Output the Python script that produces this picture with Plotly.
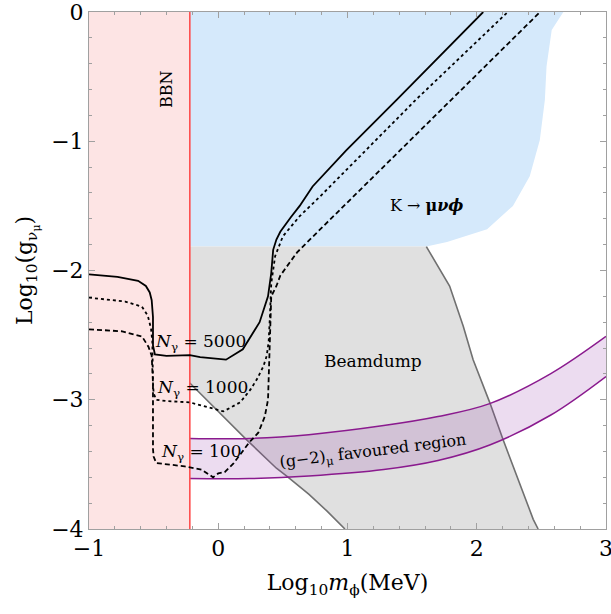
import plotly.graph_objects as go

# ---------------- data ----------------
bbn_edge = -0.22
bbn_x = [-1.0, -0.22, -0.22, -1.0]
bbn_y = [0.0, 0.0, -4.0, -4.0]

# K -> mu nu phi excluded region (blue)
k_x = [-0.22, 2.67, 2.58, 2.54, 2.527, 2.488, 2.41, 2.28, 2.08, 1.77, 1.61, -0.22]
k_y = [0.0, 0.0, -0.14, -0.42, -0.68, -0.99, -1.27, -1.50, -1.68, -1.78, -1.815, -1.815]

# Beamdump region (grey): right boundary and lower-left boundary
bd_r_x = [1.61, 1.79, 1.895, 1.972, 2.10, 2.204, 2.437, 2.475]
bd_r_y = [-1.815, -2.12, -2.43, -2.69, -3.02, -3.31, -3.925, -4.0]
bd_l_x = [-0.22, -0.17, -0.04, 0.22, 0.45, 0.53, 0.70, 0.84, 0.98]
bd_l_y = [-2.87, -2.92, -3.05, -3.31, -3.53, -3.59, -3.73, -3.86, -4.0]

# (g-2)_mu favoured band
g2_x = [-0.22, 0.24, 0.7, 1.28, 1.7, 2.1, 2.57, 3.0]
g2_upper = [-3.30, -3.30, -3.27, -3.20, -3.13, -3.03, -2.80, -2.51]
g2_lower = [-3.61, -3.61, -3.59, -3.54, -3.47, -3.35, -3.12, -2.82]

# N_gamma = 5000 (solid)
n5000_x = [-1.0, -0.78, -0.62, -0.56, -0.53, -0.515, -0.505, -0.505, -0.49, -0.40, -0.22, -0.14,
           0.06, 0.19, 0.32, 0.385, 0.41, 0.425, 0.45, 0.48, 0.56, 0.63, 0.73, 0.99, 1.38, 2.05]
n5000_y = [-2.03, -2.05, -2.08, -2.12, -2.17, -2.23, -2.36, -2.58, -2.65, -2.66, -2.655, -2.67,
           -2.69, -2.61, -2.40, -2.20, -2.02, -1.84, -1.76, -1.70, -1.59, -1.50, -1.35, -1.07, -0.68, 0.0]

# N_gamma = 1000 (dotted)
n1000_x = [-1.0, -0.72, -0.59, -0.545, -0.52, -0.51, -0.505, -0.50, -0.48, -0.40, -0.22, 0.04,
           0.17, 0.25, 0.30, 0.35, 0.375, 0.39, 0.40, 0.41, 0.44, 0.50, 0.63, 0.79, 1.53, 2.24]
n1000_y = [-2.21, -2.24, -2.28, -2.35, -2.45, -2.55, -2.87, -2.95, -3.00, -3.01, -3.02, -3.09,
           -3.02, -2.92, -2.84, -2.74, -2.66, -2.55, -2.35, -2.10, -1.89, -1.735, -1.58, -1.425, -0.678, 0.0]

# N_gamma = 100 (dashed)
n100_x = [-1.0, -0.75, -0.59, -0.54, -0.515, -0.505, -0.505, -0.50, -0.48, -0.39, -0.26, -0.13,
          -0.04, 0.0, 0.05, 0.12, 0.24, 0.31, 0.36, 0.385, 0.40, 0.41, 0.45, 0.48, 0.53, 0.61,
          0.79, 1.805, 2.49]
n100_y = [-2.455, -2.47, -2.51, -2.59, -2.66, -2.87, -3.38, -3.44, -3.49, -3.50, -3.515, -3.54,
          -3.60, -3.57, -3.56, -3.49, -3.33, -3.255, -3.13, -3.00, -2.61, -2.20, -2.12, -2.04, -1.97,
          -1.86, -1.68, -0.678, 0.0]

x_ticks = [-1, 0, 1, 2, 3]
y_ticks = [0, -1, -2, -3, -4]

# ---------------- figure ----------------
SERIF = "DejaVu Serif"
fig = go.Figure()

# blue K region
fig.add_trace(go.Scatter(x=k_x, y=k_y, fill="toself", fillcolor="#d5e9fb",
                         line=dict(width=0), mode="lines", hoverinfo="skip"))
# beamdump grey polygon
bd_poly_x = [-0.22] + bd_r_x + bd_l_x[::-1]
bd_poly_y = [-1.815] + bd_r_y + bd_l_y[::-1]
fig.add_trace(go.Scatter(x=bd_poly_x, y=bd_poly_y, fill="toself", fillcolor="#e0e0e0",
                         line=dict(width=0), mode="lines", hoverinfo="skip"))
fig.add_trace(go.Scatter(x=bd_r_x, y=bd_r_y, mode="lines", line=dict(color="#707070", width=1.6)))
fig.add_trace(go.Scatter(x=bd_l_x, y=bd_l_y, mode="lines", line=dict(color="#707070", width=1.6)))

# g-2 band
fig.add_trace(go.Scatter(x=g2_x, y=g2_lower, mode="lines", line=dict(color="#8a1a8e", width=1.5, shape="spline")))
fig.add_trace(go.Scatter(x=g2_x, y=g2_upper, mode="lines", fill="tonexty",
                         fillcolor="rgba(150,60,170,0.18)",
                         line=dict(color="#8a1a8e", width=1.5, shape="spline")))

# BBN
fig.add_trace(go.Scatter(x=bbn_x, y=bbn_y, fill="toself", fillcolor="#fde4e4",
                         line=dict(width=0), mode="lines", hoverinfo="skip"))
fig.add_trace(go.Scatter(x=[bbn_edge, bbn_edge], y=[0, -4], mode="lines",
                         line=dict(color="#ff4d4d", width=1.6)))

# N_gamma curves
fig.add_trace(go.Scatter(x=n5000_x, y=n5000_y, mode="lines", line=dict(color="black", width=1.8)))
fig.add_trace(go.Scatter(x=n1000_x, y=n1000_y, mode="lines", line=dict(color="black", width=1.8, dash="dot")))
fig.add_trace(go.Scatter(x=n100_x, y=n100_y, mode="lines", line=dict(color="black", width=1.8, dash="5px,3px")))

ann = [
    dict(x=-0.40, y=-0.60, text="BBN", textangle=-90, font=dict(size=16)),
    dict(x=1.61, y=-1.50, text="K → <b>μ<i>νϕ</i></b>", font=dict(size=16)),
    dict(x=1.20, y=-2.70, text="Beamdump", font=dict(size=17)),
    dict(x=1.20, y=-3.40, text="(g−2)<sub>μ</sub> favoured region", textangle=-7, font=dict(size=16)),
    dict(x=-0.14, y=-2.56, text="<i>N</i><sub>γ</sub> = 5000", font=dict(size=17)),
    dict(x=-0.12, y=-2.91, text="<i>N</i><sub>γ</sub> = 1000", font=dict(size=17)),
    dict(x=-0.13, y=-3.41, text="<i>N</i><sub>γ</sub> = 100", font=dict(size=17)),
]
for a in ann:
    a.update(showarrow=False, xref="x", yref="y")
    a["font"].update(family=SERIF, color="black")
    fig.add_annotation(**a)

axis_common = dict(showgrid=False, zeroline=False, showline=True, linecolor="#a0a0a0", linewidth=1,
                   mirror="allticks", ticks="inside", ticklen=6, tickcolor="#a0a0a0",
                   minor=dict(dtick=0.2, ticks="inside", ticklen=3, tickcolor="#a0a0a0"),
                   automargin=False, ticklabeloverflow="allow",
                   tickfont=dict(family=SERIF, size=22, color="black"))
fig.update_xaxes(range=[-1, 3], tickvals=x_ticks, ticktext=[("−" + str(-v)) if v < 0 else str(v) for v in x_ticks],
                 title=dict(text="Log<sub>10</sub><i>m</i><sub>ϕ</sub>(MeV)", font=dict(family=SERIF, size=22, color="black"), standoff=14),
                 **axis_common)
fig.update_yaxes(range=[-4, 0], tickvals=y_ticks, ticktext=[("−" + str(-v)) if v < 0 else str(v) for v in y_ticks],
                 title=dict(text="Log<sub>10</sub>(g<sub>ν<sub>μ</sub></sub>)", font=dict(family=SERIF, size=22, color="black"), standoff=12),
                 **axis_common)
fig.update_layout(width=611, height=614, showlegend=False, plot_bgcolor="white", paper_bgcolor="white",
                  margin=dict(l=89, r=5, t=12, b=85))
fig.write_html("out.html", config={"displayModeBar": False},
               post_script="document.body.style.margin='0';")
